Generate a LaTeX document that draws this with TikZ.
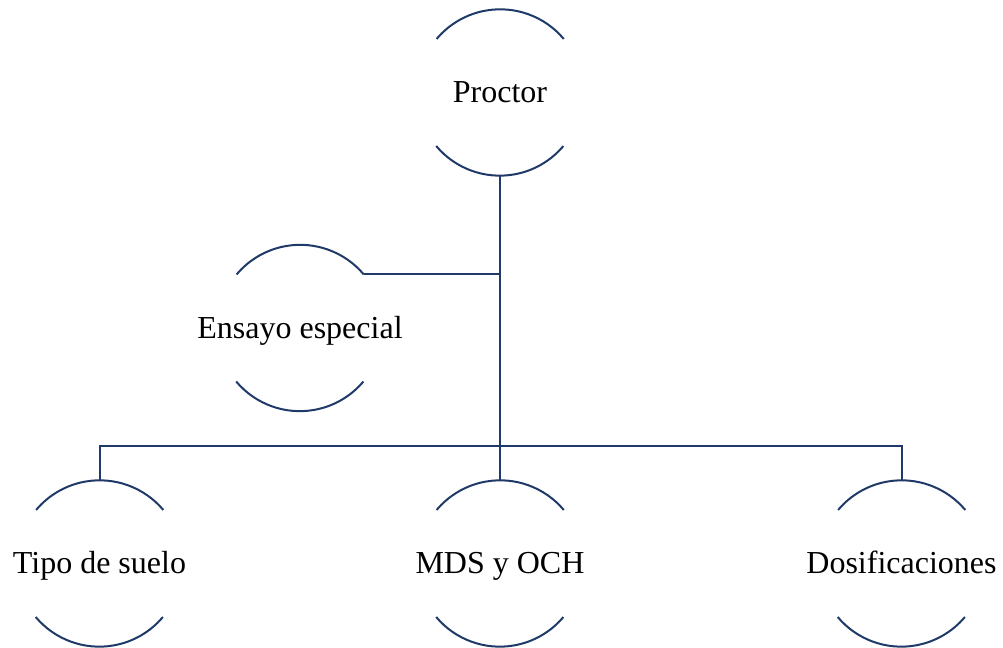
\documentclass[tikz,border=0pt]{standalone}
\usepackage{fontspec}
\setmainfont{Liberation Serif}
\definecolor{navy}{RGB}{31,58,104}
\begin{document}
\begin{tikzpicture}[x=0.75pt,y=0.75pt,
  ring/.style={circle,minimum size=124.5pt,inner sep=0pt,draw=none},
  arcline/.style={draw=navy,line width=1.5pt},
  conn/.style={draw=navy,line width=1.5pt},
  lbl/.style={anchor=base,inner sep=0pt,font=\fontsize{24}{28}\selectfont}]
\useasboundingbox (0,0) rectangle (1003,648);
% a node drawn as the top and bottom arcs of a circle with its label in the middle
\newcommand\arcnode[3]{%
  \node[ring] (#1) at #2 {};
  \node[lbl] (#1-t) at ([yshift=-7.7pt]#1.center) {#3};
  \draw[arcline] (#1.40) arc[start angle=40,end angle=140,radius=62.25pt];
  \draw[arcline] (#1.220) arc[start angle=220,end angle=320,radius=62.25pt];
}
\arcnode{proc}{(500,555.5)}{Proctor}
\arcnode{ens}{(300,320)}{Ensayo especial}
\arcnode{tipo}{(99.5,84.5)}{Tipo de suelo}
\arcnode{mds}{(500,84.5)}{MDS y OCH}
\arcnode{dos}{(901.5,84.5)}{Dosificaciones}
% connectors
\coordinate (hub) at (proc.south |- 0,202);
\draw[conn] (proc.south) -- (hub);
\draw[conn] (ens.40) -- (ens.40 -| proc.south);
\draw[conn] (tipo.north) |- (hub) -| (dos.north);
\draw[conn] (hub) -- (mds.north);
\end{tikzpicture}
\end{document}
